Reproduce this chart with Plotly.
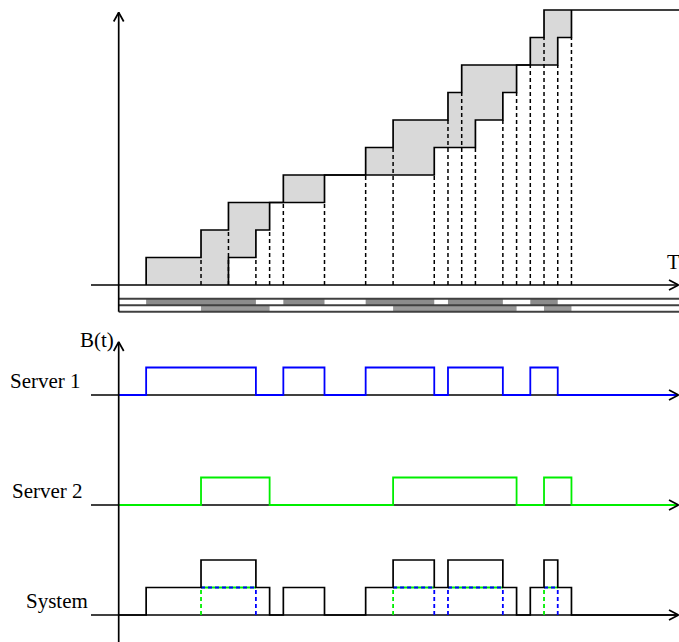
import plotly.graph_objects as go

# ---------------- data ----------------
arrivals = [2, 6, 8, 12, 18, 20, 24, 25, 30, 31]
departures = [8, 10, 11, 15, 23, 26, 28, 29, 32, 33]
server1_start = [2, 12, 18, 24, 30]
server1_end = [10, 15, 23, 28, 32]
server2_start = [6, 20, 31]
server2_end = [11, 29, 33]
row_labels = ["Server 1", "Server 2", "System"]
time_label = "T"
busy_label = "B(t)"

# ---------------- layout constants ----------------
W, H = 679, 642
X0, SX = 118.7, 13.72      # pixel of t=0, pixels per time unit
Y0, SY = 615.0, 27.5       # pixel of y=0, pixels per unit


def tx(px):
    return (px - X0) / SX


def ty(py):
    return (Y0 - py) / SY


TOP, S1, S2, SYS = 12, 8, 4, 0
T_END = tx(W)
T_LEFT = tx(91)
BLUE, GREEN = "#0000ff", "#00ee00"
LW = 1.7
FONT = "Liberation Serif"

fig = go.Figure()


def line(xs, ys, color="black", width=LW, dash=None, fill=None, fillcolor=None):
    fig.add_trace(go.Scatter(
        x=xs, y=ys, mode="lines", hoverinfo="skip",
        line=dict(color=color, width=width, dash=dash) if width > 0 else dict(width=0),
        fill=fill, fillcolor=fillcolor))


def arrow_right(y):
    line([tx(669), tx(678.5), tx(669)],
         [y + 5 / SY, y, y - 5 / SY])


def arrow_up(x, ytip):
    line([x - 5 / SX, x, x + 5 / SX],
         [ytip - 9 / SY, ytip, ytip - 9 / SY])


# ---------------- top panel: cumulative arrivals/departures ----------------
px_up, py_up = [], []
for i, t in enumerate(arrivals):
    px_up += [t, t]
    py_up += [TOP + i, TOP + i + 1]
px_lo, py_lo = [], []
for j, t in enumerate(departures):
    px_lo += [t, t]
    py_lo += [TOP + j, TOP + j + 1]

# shaded region between curves
fx = px_up + [departures[-1]] + px_lo[::-1] + [arrivals[0]]
fy = py_up + [TOP + len(arrivals)] + py_lo[::-1] + [TOP]
line(fx, fy, width=0, fill="toself", fillcolor="#d9d9d9")

# dashed guides from the axis to the foot of each step
events = sorted(set(arrivals) | set(departures))
gx, gy = [], []
for t in events:
    h = 0
    if t in arrivals:
        h = max(h, arrivals.index(t))
    if t in departures:
        h = max(h, departures.index(t))
    if h > 0:
        gx += [t, t, None]
        gy += [TOP, TOP + h, None]
line(gx, gy, dash="4px,3px", width=1.5)

# step curves
line(px_up + [T_END], py_up + [TOP + len(arrivals)])
line(px_lo, py_lo)

# busy strips below the top axis
strip_lines = [ty(298.8), ty(305.2), ty(311.8)]
for starts, ends, (yb, yt), col in [
    (server1_start, server1_end, (strip_lines[1], strip_lines[0]), "#8c8c8c"),
    (server2_start, server2_end, (strip_lines[2], strip_lines[1]), "#999999"),
]:
    for a, b in zip(starts, ends):
        line([a, b, b, a, a], [yb, yb, yt, yt, yb], width=0,
             fill="toself", fillcolor=col)
for ys in strip_lines:
    line([0, T_END], [ys, ys], color="#404040", width=2)

# top axes
line([T_LEFT, tx(678)], [TOP, TOP])
arrow_right(TOP)
line([0, 0], [strip_lines[2], ty(12.5)])
arrow_up(0, ty(12.5))


# ---------------- lower panel: busy functions ----------------
def busy_step(starts, ends, base):
    xs, ys = [0], [base]
    for a, b in zip(starts, ends):
        xs += [a, a, b, b]
        ys += [base, base + 1, base + 1, base]
    xs.append(T_END - 0.2)
    ys.append(base)
    return xs, ys


for starts, ends, base, col in [
    (server1_start, server1_end, S1, BLUE),
    (server2_start, server2_end, S2, GREEN),
]:
    line([T_LEFT, tx(678)], [base, base])
    xs, ys = busy_step(starts, ends, base)
    line(xs, ys, color=col, width=1.8)
    arrow_right(base)

# system = number of busy servers
sev = sorted(set(server1_start + server1_end + server2_start + server2_end))


def n_busy(t):
    c = 0
    for a, b in zip(server1_start, server1_end):
        c += a <= t < b
    for a, b in zip(server2_start, server2_end):
        c += a <= t < b
    return c


line([T_LEFT, tx(678)], [SYS, SYS])
arrow_right(SYS)

# overlap markers
prev = 0
ov_start = None
for t in sev:
    lvl = n_busy(t)
    if lvl == 2 and prev < 2:
        ov_start = t
        col = GREEN if t in server2_start else BLUE
        line([t, t], [SYS, SYS + 1], color=col, width=1.8, dash="4px,3px")
    if prev == 2 and lvl < 2:
        line([ov_start, t], [SYS + 1, SYS + 1], color=GREEN, width=1.8)
        line([ov_start, t], [SYS + 1, SYS + 1], color=BLUE, width=1.8, dash="4px,3px")
        col = BLUE if t in server1_end else GREEN
        line([t, t], [SYS, SYS + 1], color=col, width=1.8, dash="4px,3px")
    prev = lvl

sx, sy = [0], [SYS]
lvl_prev = 0
for t in sev:
    lvl = n_busy(t)
    sx += [t, t]
    sy += [SYS + lvl_prev, SYS + lvl]
    lvl_prev = lvl
sx.append(T_END - 0.2)
sy.append(SYS)
line(sx, sy)

# lower y axis
line([0, 0], [ty(H), ty(342)])
arrow_up(0, ty(342))

# ---------------- text ----------------
ann = [
    dict(x=tx(673.5), y=ty(262), text=time_label, xanchor="center"),
    dict(x=tx(97), y=ty(340), text=busy_label, xanchor="center"),
    dict(x=tx(83), y=ty(381), text=row_labels[0], xanchor="right"),
    dict(x=tx(85), y=ty(491), text=row_labels[1], xanchor="right"),
    dict(x=tx(90), y=ty(601), text=row_labels[2], xanchor="right"),
]
for a in ann:
    fig.add_annotation(x=a["x"], y=a["y"], text=a["text"], xanchor=a["xanchor"],
                       yanchor="middle", showarrow=False,
                       font=dict(family=FONT, size=21, color="black"))

fig.update_layout(
    width=W, height=H, margin=dict(l=0, r=0, t=0, b=0),
    paper_bgcolor="white", plot_bgcolor="white", showlegend=False,
    xaxis=dict(range=[tx(0), tx(W)], visible=False, fixedrange=True),
    yaxis=dict(range=[ty(H), ty(0)], visible=False, fixedrange=True),
)
fig.write_html("out.html")
